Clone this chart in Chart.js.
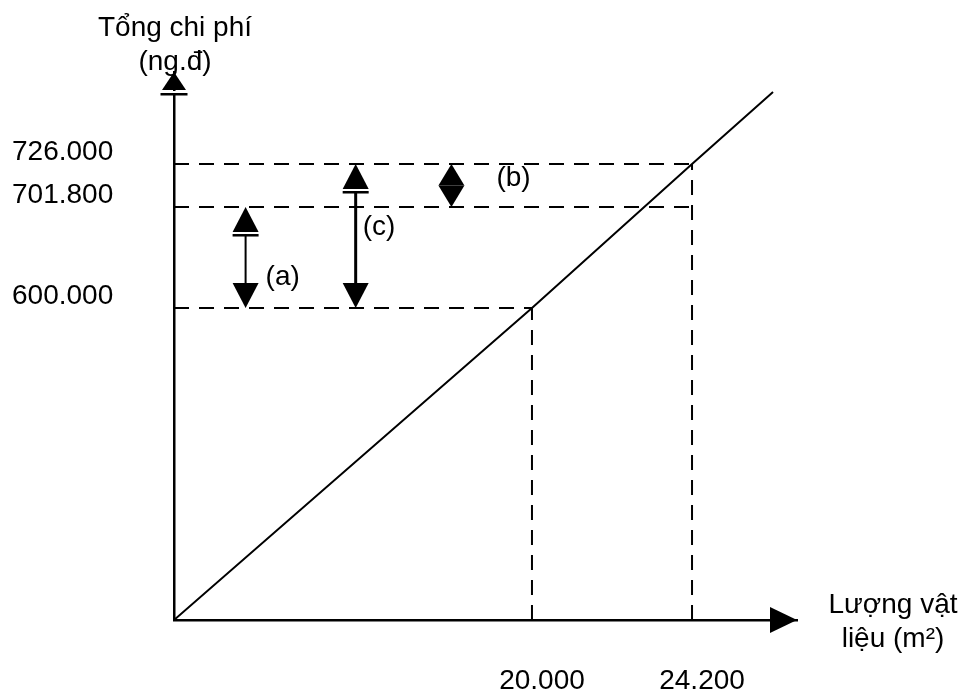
<!DOCTYPE html>
<html lang="vi">
<head>
<meta charset="utf-8">
<title>Tổng chi phí theo lượng vật liệu</title>
<script src="https://cdn.jsdelivr.net/npm/chart.js@4.4.1/dist/chart.umd.min.js"></script>
<style>
  html, body { margin: 0; padding: 0; background: #fff; }
  #wrap { width: 965px; height: 692px; }
</style>
</head>
<body>
<div id="wrap"><canvas id="costChart" width="965" height="692"></canvas></div>
<script>
/* ============================================================================
   Total cost vs. quantity of material (schematic, not to scale)
   - cost line through the origin
   - dashed guides to the read-off points
   - gap arrows (a), (b), (c) between the cost levels
   ============================================================================ */

// ---- data -----------------------------------------------------------------
const quantity  = [0, 20000, 24200, 27000];          // m2
const totalCost = [0, 600000, 726000, 810000];       // ng.đ

const qtyTicks       = [20000, 24200];
const qtyTickLabels  = ['20.000', '24.200'];
const costTicks      = [600000, 701800, 726000];
const costTickLabels = ['600.000', '701.800', '726.000'];

// vertical guides: from the x axis up to the cost line
const guideQty     = [20000, 24200];
const guideQtyCost = [600000, 726000];
// horizontal guides: from the y axis across to a quantity
const guideCost    = [600000, 701800, 726000];
const guideCostQty = [20000, 24200, 24200];

// cost gaps shown with double arrows
const gapNames = ['(a)', '(b)', '(c)'];
const gapFrom  = [600000, 701800, 600000];
const gapTo    = [701800, 726000, 726000];

// ---- layout / style (kept apart from the data) ----------------------------
const FONT_FAMILY = '"Liberation Sans", Arial, sans-serif';
const FONT_SIZE = 28;
const gapMarkAt  = [4000, 15500, 10150];   // where each gap arrow stands, in m2
const gapShaft   = [2, 2, 3];
const gapLabelDx = [20, 45, 7];
const gapLabelDy = [20, -7, -9];

// the picture is not drawn to scale: each axis maps values piecewise
const scaleKnots = {
    x: [[0, 0], [20000, 0.5746], [24200, 0.8315], [27000, 0.9615], [28000, 1]],
    y: [[0, 0], [600000, 0.5693], [701800, 0.7536], [726000, 0.8321], [810000, 0.9635], [840000, 1]]
};

/**
 * Linear scale whose value -> pixel mapping goes through a knot table
 */
class SchematicScale extends Chart.LinearScale {
    static id = 'schematic';
    static defaults = Chart.LinearScale.defaults;

    _decimalFor(v) {
        const k = scaleKnots[this.id];
        let i = 1;
        while (i < k.length - 1 && v > k[i][0]) i++;
        const [v0, d0] = k[i - 1];
        const [v1, d1] = k[i];
        return d0 + (v - v0) / (v1 - v0) * (d1 - d0);
    }

    getPixelForValue(value) {
        return this.getPixelForDecimal(this._decimalFor(value));
    }

    getValueForPixel(pixel) {
        const d = this.getDecimalForPixel(pixel);
        const k = scaleKnots[this.id];
        let i = 1;
        while (i < k.length - 1 && d > k[i][1]) i++;
        const [v0, d0] = k[i - 1];
        const [v1, d1] = k[i];
        return v0 + (d - d0) / (d1 - d0) * (v1 - v0);
    }
}
Chart.register(SchematicScale);

function dashedGuide(points) {
    return {
        data: points,
        borderColor: '#000',
        borderWidth: 2,
        borderDash: [15, 10],
        pointRadius: 0,
        fill: false
    };
}

function buildDatasets() {
    const sets = [];
    guideQty.forEach((q, i) => sets.push(dashedGuide([{ x: q, y: 0 }, { x: q, y: guideQtyCost[i] }])));
    guideCost.forEach((c, i) => sets.push(dashedGuide([{ x: 0, y: c }, { x: guideCostQty[i], y: c }])));
    sets.push({
        data: quantity.map((q, i) => ({ x: q, y: totalCost[i] })),
        borderColor: '#000',
        borderWidth: 2,
        pointRadius: 0,
        fill: false
    });
    return sets;
}

/**
 * Filled triangle. dir = -1 points up, +1 points down.
 */
function drawHead(ctx, x, tipY, dir, len, half) {
    ctx.beginPath();
    ctx.moveTo(x, tipY);
    ctx.lineTo(x - half, tipY - dir * len);
    ctx.lineTo(x + half, tipY - dir * len);
    ctx.closePath();
    ctx.fill();
}

// small white gap + bar under an up head, like the original drawing
function drawHeadBar(ctx, x, baseY, half) {
    ctx.fillStyle = '#fff';
    ctx.fillRect(x - half, baseY, half * 2, 2);
    ctx.fillStyle = '#000';
    ctx.fillRect(x - half, baseY + 2, half * 2, 2.5);
}

/**
 * Plugin: arrowheads at the ends of both axes
 */
const axisArrowsPlugin = {
    id: 'axisArrows',
    afterDraw(chart) {
        const { ctx, chartArea } = chart;
        ctx.save();
        ctx.fillStyle = '#000';
        // y axis
        drawHead(ctx, chartArea.left, chartArea.top, -1, 18, 12);
        drawHeadBar(ctx, chartArea.left, chartArea.top + 19, 13.5);
        // x axis
        ctx.beginPath();
        ctx.moveTo(chartArea.right, chartArea.bottom);
        ctx.lineTo(chartArea.right - 27, chartArea.bottom - 13);
        ctx.lineTo(chartArea.right - 27, chartArea.bottom + 13);
        ctx.closePath();
        ctx.fill();
        ctx.restore();
    }
};

/**
 * Plugin: axis titles (two lines each)
 */
const axisTitlesPlugin = {
    id: 'axisTitles',
    afterDraw(chart) {
        const { ctx, chartArea } = chart;
        ctx.save();
        ctx.fillStyle = '#000';
        ctx.font = `${FONT_SIZE}px ${FONT_FAMILY}`;
        ctx.textAlign = 'center';
        ctx.textBaseline = 'alphabetic';
        const yx = chartArea.left + 1;
        ctx.fillText('Tổng chi phí', yx, chartArea.top - 36);
        ctx.fillText('(ng.đ)', yx, chartArea.top - 2);
        const xx = chartArea.right + 96;
        ctx.fillText('Lượng vật', xx, chartArea.bottom - 7);
        ctx.fillText('liệu (m²)', xx, chartArea.bottom + 27);
        ctx.restore();
    }
};

/**
 * Plugin: double arrows marking the cost gaps
 */
const gapArrowsPlugin = {
    id: 'gapArrows',
    afterDatasetsDraw(chart) {
        const { ctx, scales } = chart;
        ctx.save();
        ctx.fillStyle = '#000';
        ctx.strokeStyle = '#000';
        ctx.font = `${FONT_SIZE}px ${FONT_FAMILY}`;
        ctx.textAlign = 'left';
        ctx.textBaseline = 'middle';

        gapNames.forEach((name, i) => {
            const x = scales.x.getPixelForValue(gapMarkAt[i]);
            const yTop = scales.y.getPixelForValue(gapTo[i]);
            const yBot = scales.y.getPixelForValue(gapFrom[i]);
            const len = Math.min(25, (yBot - yTop) / 2);
            const half = 13;

            if (yBot - yTop > 2 * len + 1) {
                ctx.lineWidth = gapShaft[i];
                ctx.beginPath();
                ctx.moveTo(x, yTop + len);
                ctx.lineTo(x, yBot - len);
                ctx.stroke();
            }
            drawHead(ctx, x, yTop, -1, len, half);
            drawHead(ctx, x, yBot, 1, len, half);
            if (yBot - yTop > 2 * len + 1) drawHeadBar(ctx, x, yTop + len, half);

            ctx.fillStyle = '#000';
            ctx.fillText(name, x + gapLabelDx[i], (yTop + yBot) / 2 + gapLabelDy[i]);
        });
        ctx.restore();
    }
};

const tickFont = { family: FONT_FAMILY, size: FONT_SIZE };

new Chart(document.getElementById('costChart').getContext('2d'), {
    type: 'line',
    data: { datasets: buildDatasets() },
    options: {
        responsive: false,
        animation: false,
        events: [],
        layout: { padding: { left: 12, right: 168, top: 72, bottom: 0 } },
        elements: { line: { tension: 0 } },
        scales: {
            x: {
                type: 'schematic',
                min: 0,
                max: 28000,
                afterBuildTicks: s => { s.ticks = qtyTicks.map(v => ({ value: v })); },
                afterFit: s => { s.height = 72; },
                grid: { drawOnChartArea: false, drawTicks: false },
                border: { display: true, color: '#000', width: 2.5 },
                ticks: {
                    autoSkip: false,
                    maxRotation: 0,
                    padding: 44,
                    labelOffset: 10,
                    color: '#000',
                    font: tickFont,
                    callback: (v, i) => qtyTickLabels[i]
                }
            },
            y: {
                type: 'schematic',
                min: 0,
                max: 840000,
                afterBuildTicks: s => { s.ticks = costTicks.map(v => ({ value: v })); },
                afterFit: s => { s.width = 162; },
                grid: { drawOnChartArea: false, drawTicks: false },
                border: { display: true, color: '#000', width: 2.5 },
                ticks: {
                    autoSkip: false,
                    crossAlign: 'far',
                    labelOffset: -12,
                    color: '#000',
                    font: tickFont,
                    callback: (v, i) => costTickLabels[i]
                }
            }
        },
        plugins: {
            legend: { display: false },
            tooltip: { enabled: false }
        }
    },
    plugins: [gapArrowsPlugin, axisArrowsPlugin, axisTitlesPlugin]
});
</script>
</body>
</html>
